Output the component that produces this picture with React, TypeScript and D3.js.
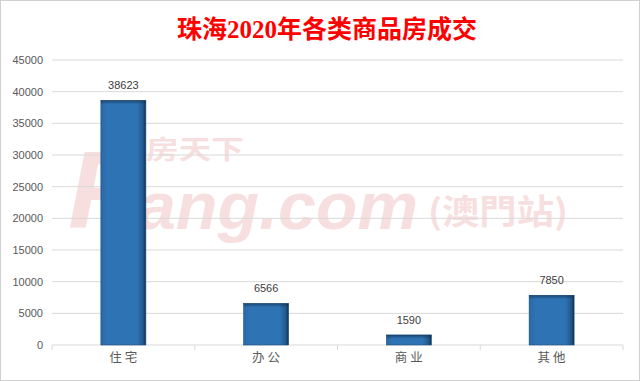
import React from "react";
import * as d3 from "d3";

const categories = ["住宅", "办公", "商业", "其他"];
const values = [38623, 6566, 1590, 7850];
const yTicks = [0, 5000, 10000, 15000, 20000, 25000, 30000, 35000, 40000, 45000];
const title = "珠海2020年各类商品房成交";

const W = 640, H = 381;
const left = 52, right = 623, top = 60, bottom = 345;

export default function App() {
  const x = d3.scaleBand<string>().domain(categories).range([left, right]).paddingInner(0).paddingOuter(0);
  const y = d3.scaleLinear().domain([0, 45000]).range([bottom, top]);
  const bw = 45;
  const boundaries = [left, ...categories.map((c) => (x(c) as number) + x.bandwidth())];
  return (
    <svg width={W} height={H} style={{ position: "fixed", left: 0, top: 0, background: "#fff" }}
      fontFamily="'Liberation Sans', 'Noto Sans CJK SC', sans-serif">
      <defs>
        <linearGradient id="barG" x1="0" x2="1" y1="0" y2="0">
          <stop offset="0" stopColor="#2a68a8" />
          <stop offset="0.15" stopColor="#2e74b5" />
          <stop offset="0.8" stopColor="#2e74b5" />
          <stop offset="0.93" stopColor="#235a8e" />
          <stop offset="1" stopColor="#13304f" />
        </linearGradient>
        <linearGradient id="barTop" x1="0" x2="0" y1="0" y2="1">
          <stop offset="0" stopColor="#0e2a48" stopOpacity={0.6} />
          <stop offset="1" stopColor="#0e2a48" stopOpacity={0} />
        </linearGradient>
      </defs>
      <rect x={0.5} y={0.5} width={W - 1} height={H - 1} fill="#fff" stroke="#d0d0d0" />
      <text x={327} y={38} textAnchor="middle" fill="#ff0000" fontSize={25} fontWeight="bold"
        fontFamily="'Liberation Serif', 'Noto Sans CJK SC', serif">{title}</text>
      {/* watermark */}
      <g fill="#e07070" opacity={0.22}>
        <text x={146} y={159} fontSize={26} fontWeight="bold" fontFamily="'Noto Sans CJK SC', sans-serif"
          textLength={98} lengthAdjust="spacingAndGlyphs">房天下</text>
        <text x={68} y={228} fontSize={110} fontWeight="bold" fontStyle="italic">F</text>
        <text x={138} y={229} fontSize={66} fontWeight="bold" fontStyle="italic"
          textLength={280} lengthAdjust="spacingAndGlyphs">ang.com</text>
        <text x={428} y={224} fontSize={34} fontWeight="bold" fontFamily="'Noto Sans CJK SC', sans-serif"
          textLength={140} lengthAdjust="spacingAndGlyphs">(澳門站)</text>
      </g>
      {yTicks.map((t) => (
        <g key={t}>
          {t > 0 && <line x1={left} x2={right} y1={y(t)} y2={y(t)} stroke="#d9d9d9" strokeWidth={1} />}
          <text x={43} y={y(t)} dy="0.35em" textAnchor="end" fontSize={11} fill="#595959">{t}</text>
        </g>
      ))}
      <line x1={left} x2={right} y1={bottom} y2={bottom} stroke="#d9d9d9" strokeWidth={1} />
      {boundaries.map((b, i) => (
        <line key={i} x1={b} x2={b} y1={bottom} y2={bottom + 5} stroke="#d9d9d9" strokeWidth={1} />
      ))}
      {categories.map((c, i) => {
        const cx = (x(c) as number) + x.bandwidth() / 2;
        const v = values[i];
        return (
          <g key={c}>
            <rect x={cx - bw / 2} y={y(v)} width={bw} height={bottom - y(v)} fill="url(#barG)"
              stroke="#1f4e79" strokeWidth={0.6} />
            <rect x={cx - bw / 2} y={y(v)} width={bw} height={Math.min(4, bottom - y(v))} fill="url(#barTop)" />
            <text x={cx} y={y(v) - 15} dy="0.35em" textAnchor="middle" fontSize={11} fill="#404040">{v}</text>
            <text x={cx + 1.5} y={358} dy="0.35em" textAnchor="middle" fontSize={12.5} fill="#595959"
              letterSpacing={3} fontFamily="'Noto Sans CJK SC', sans-serif">{c}</text>
          </g>
        );
      })}
    </svg>
  );
}
